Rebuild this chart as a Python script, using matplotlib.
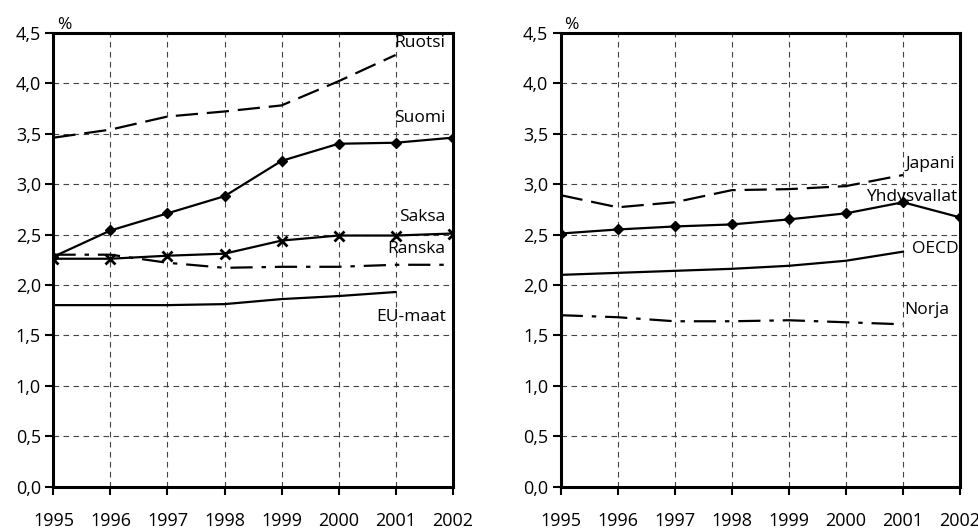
import matplotlib
matplotlib.use("Agg")
import matplotlib.pyplot as plt
import numpy as np

plt.rcParams['font.family'] = ['Open Sans', 'DejaVu Sans']

years = [1995, 1996, 1997, 1998, 1999, 2000, 2001, 2002]
years_to01 = years[:7]

# Left panel
ruotsi = [3.46, 3.54, 3.67, 3.72, 3.78, 4.02, 4.28]
suomi = [2.28, 2.54, 2.71, 2.88, 3.23, 3.40, 3.41, 3.46]
saksa = [2.26, 2.26, 2.29, 2.31, 2.44, 2.49, 2.49, 2.51]
ranska = [2.30, 2.30, 2.22, 2.17, 2.18, 2.18, 2.20, 2.20]
eu_maat = [1.80, 1.80, 1.80, 1.81, 1.86, 1.89, 1.93]

# Right panel
japani = [2.89, 2.77, 2.82, 2.94, 2.95, 2.98, 3.09]
yhdysvallat = [2.51, 2.55, 2.58, 2.60, 2.65, 2.71, 2.82, 2.67]
oecd = [2.10, 2.12, 2.14, 2.16, 2.19, 2.24, 2.33]
norja = [1.70, 1.68, 1.64, 1.64, 1.65, 1.63, 1.61]

yticks = [0.0, 0.5, 1.0, 1.5, 2.0, 2.5, 3.0, 3.5, 4.0, 4.5]
ytick_labels = ['0,0', '0,5', '1,0', '1,5', '2,0', '2,5', '3,0', '3,5', '4,0', '4,5']

fig = plt.figure(figsize=(9.79, 5.29), dpi=100)
ax1 = fig.add_axes([0.0546, 0.080, 0.4077, 0.858])
ax2 = fig.add_axes([0.5727, 0.080, 0.4079, 0.858])

FS = 13
LFS = 12.5
lw = 1.6
long_dash = (0, (10, 4))
dash_dot = (0, (10, 4, 2, 4))

def style(ax):
    ax.set_xlim(1995, 2002)
    ax.set_ylim(0, 4.5)
    ax.set_xticks(years)
    ax.set_xticklabels([str(y) for y in years], fontsize=FS)
    ax.set_yticks(yticks)
    ax.set_yticklabels(ytick_labels, fontsize=FS)
    ax.grid(True, color='#444444', linestyle=(0, (5, 4)), linewidth=0.8)
    ax.set_axisbelow(True)
    for s in ax.spines.values():
        s.set_linewidth(2.2)
        s.set_color('black')
    ax.tick_params(axis='x', direction='out', length=6, width=1.5, pad=12)
    ax.tick_params(axis='y', direction='out', length=6, width=1.5, pad=3)
    ax.text(0.008, 1.0, '%', transform=ax.transAxes, fontsize=LFS, ha='left', va='bottom')

def label(ax, x, y, txt, ha='right'):
    ax.text(x, y, txt, fontsize=LFS, ha=ha, va='center')

style(ax1)
ax1.plot(years_to01, ruotsi, color='black', lw=lw, linestyle=long_dash)
ax1.plot(years, suomi, color='black', lw=lw, marker='D', markersize=5)
ax1.plot(years, saksa, color='black', lw=lw, marker='x', markersize=7, markeredgewidth=2)
ax1.plot(years, ranska, color='black', lw=lw, linestyle=dash_dot)
ax1.plot(years_to01, eu_maat, color='black', lw=lw)
label(ax1, 2001.88, 4.40, 'Ruotsi')
label(ax1, 2001.88, 3.66, 'Suomi')
label(ax1, 2001.88, 2.67, 'Saksa')
label(ax1, 2001.88, 2.36, 'Ranska')
label(ax1, 2001.88, 1.68, 'EU-maat')

style(ax2)
ax2.plot(years_to01, japani, color='black', lw=lw, linestyle=long_dash)
ax2.plot(years, yhdysvallat, color='black', lw=lw, marker='D', markersize=5)
ax2.plot(years_to01, oecd, color='black', lw=lw)
ax2.plot(years_to01, norja, color='black', lw=lw, linestyle=dash_dot)
label(ax2, 2001.91, 3.20, 'Japani')
label(ax2, 2001.96, 2.87, 'Yhdysvallat')
label(ax2, 2001.97, 2.36, 'OECD')
label(ax2, 2001.81, 1.75, 'Norja')

fig.savefig('out.png', dpi=100)
